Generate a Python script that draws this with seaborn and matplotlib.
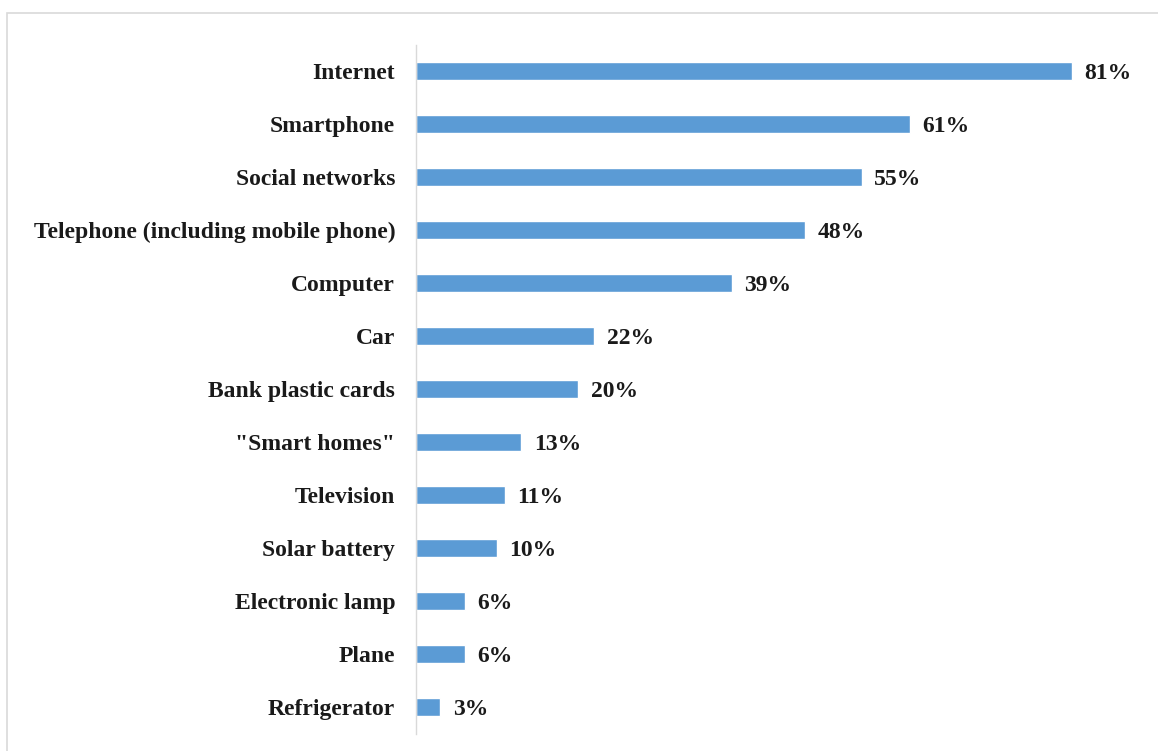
import matplotlib
matplotlib.use("Agg")
import matplotlib.pyplot as plt
import seaborn as sns
import pandas as pd
from matplotlib.patches import Rectangle

# Chart data
categories = [
    "Internet", "Smartphone", "Social networks",
    "Telephone (including mobile phone)", "Computer", "Car",
    "Bank plastic cards", '"Smart homes"', "Television",
    "Solar battery", "Electronic lamp", "Plane", "Refrigerator",
]
shares = [81, 61, 55, 48, 39, 22, 20, 13, 11, 10, 6, 6, 3]

df = pd.DataFrame({"category": categories, "share": shares})

sns.set_style("white")
plt.rcParams["font.family"] = ["Liberation Serif", "DejaVu Serif"]

fig = plt.figure(figsize=(11.58, 7.51), dpi=100)
ax = fig.add_axes([416 / 1158, 17.5 / 751, 729 / 1158, 689 / 751])

sns.barplot(data=df, x="share", y="category", color="#5B9BD5",
            saturation=1, width=0.35, ax=ax)

# Value labels at the end of each bar
texts = ax.bar_label(ax.containers[0], labels=[f"{v}%" for v in shares],
                     padding=9, fontsize=17, fontweight="bold", color="#1a1a1a")
for t in texts:
    t.set_va("center_baseline")

ax.set_xlim(0, 90)
ax.set_ylim(12.5, -0.5)
ax.set_xlabel("")
ax.set_ylabel("")
ax.set_xticks([])
ax.tick_params(axis="y", length=0, pad=15, labelsize=17)
for lbl in ax.get_yticklabels():
    lbl.set_fontweight("bold")
    lbl.set_color("#1a1a1a")

for side in ["top", "right", "bottom"]:
    ax.spines[side].set_visible(False)
ax.spines["left"].set_color("#D9D9D9")
ax.spines["left"].set_linewidth(1)

# Light frame around the chart area
fig.patches.append(Rectangle((7 / 1158, -0.05), 1.1, (751 - 13) / 751 + 0.05,
                             transform=fig.transFigure, fill=False,
                             edgecolor="#D9D9D9", linewidth=1.2))

fig.savefig("out.png", dpi=100)
